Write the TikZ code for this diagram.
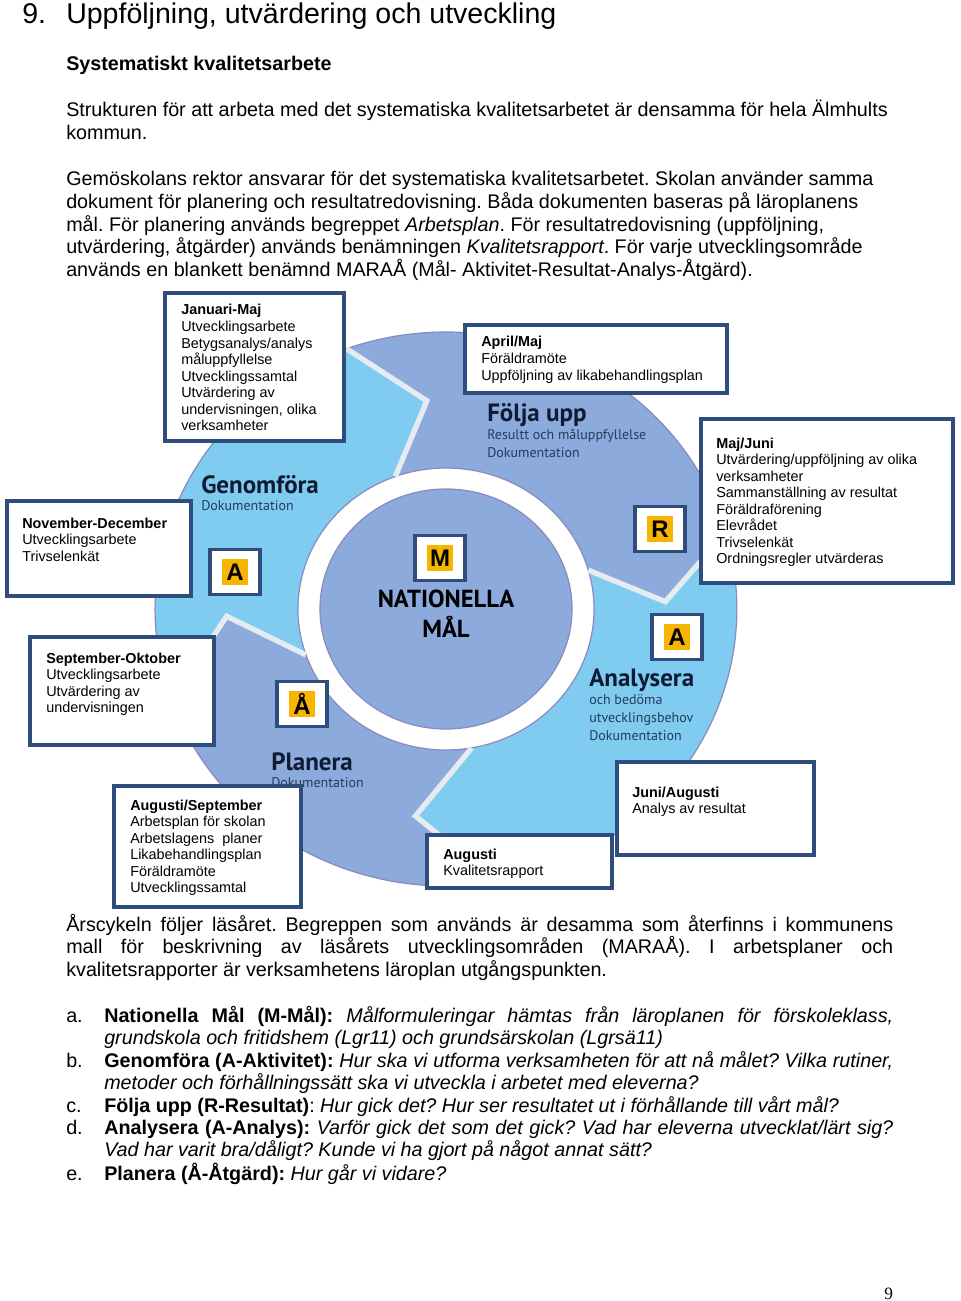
\documentclass[tikz,border=0pt]{standalone}
\usepackage{fontspec}
\setmainfont{Liberation Sans}
\newfontfamily\segfont{PT Sans}
\newfontfamily\pagefont{Liberation Serif}
\usetikzlibrary{fit}
\frenchspacing
\definecolor{lightseg}{HTML}{80CCF0}
\definecolor{midseg}{HTML}{8DAADD}
\definecolor{edgec}{HTML}{8A8ABF}
\definecolor{gapc}{HTML}{E6EBF2}
\definecolor{boxblue}{HTML}{2F4D7C}
\definecolor{badgey}{HTML}{F8B500}
\definecolor{segtitle}{HTML}{0E1B33}
\definecolor{segsmall}{HTML}{243C5E}
\newcommand\bodyfont{\fontsize{14.8pt}{17pt}\selectfont}
\newcommand\boxfont{\fontsize{10.8pt}{12.4pt}\selectfont}
\newcommand\titlefont{\fontsize{21.4pt}{24pt}\selectfont}
\newcommand\segbig{\segfont\bfseries\fontsize{18.75pt}{20pt}\selectfont}
\newcommand\segsm{\segfont\fontsize{10.5pt}{13.5pt}\selectfont}
\begin{document}
\begin{tikzpicture}[x=0.75pt,y=-0.75pt,
  txt/.style={inner sep=0pt, anchor=base west},
  tbox/.style={draw=boxblue, line width=2.4pt, fill=white, inner sep=0pt},
  badgebox/.style={draw=boxblue, line width=2.4pt, fill=white, minimum width=37.5pt, minimum height=33.75pt, inner sep=0pt},
  badgeletter/.style={fill=badgey, minimum width=20pt, minimum height=20pt, inner sep=0pt, font=\bfseries\fontsize{18pt}{18pt}\selectfont},
  seglab/.style={inner sep=0pt, anchor=base west, text=segtitle, font=\segbig},
  segsub/.style={inner sep=0pt, anchor=base west, text=segsmall},
  segpath/.style={draw=edgec, line width=0.9pt},
  gapline/.style={draw=gapc, line width=4pt},
]
\fill[white] (0,0) rectangle (960,1301);
\useasboundingbox (0,0) rectangle (960,1301);

% ---------- header text ----------
\node[txt, font=\titlefont] (tnum) at (22,24) {9.};
\node[txt, font=\titlefont] (ttl) at (66,24) {Uppföljning, utvärdering och utveckling};
\node[txt, font=\bodyfont\bfseries] (thead) at (66,71) {Systematiskt kvalitetsarbete};
\node[txt] (p1) at (66,117) {\parbox[t]{700pt}{\bodyfont\raggedright
Strukturen för att arbeta med det systematiska kvalitetsarbetet är densamma för hela Älmhults\\
kommun.}};
\node[txt] (p2) at (66,186) {\parbox[t]{700pt}{\bodyfont\raggedright
Gemöskolans rektor ansvarar för det systematiska kvalitetsarbetet. Skolan använder samma\\
dokument för planering och resultatredovisning. Båda dokumenten baseras på läroplanens\\
mål. För planering används begreppet \textit{Arbetsplan}. För resultatredovisning (uppföljning,\\
utvärdering, åtgärder) används benämningen \textit{Kvalitetsrapport}. För varje utvecklingsområde\\
används en blankett benämnd MARAÅ (Mål- Aktivitet-Resultat-Analys-Åtgärd).}};

% ---------- cycle ----------
\def\Ro{277}\def\Ri{141}\def\Rm{209}
\begin{scope}[shift={(446,609)}, xscale=1.05]
 % Folja upp
 \path[segpath, fill=midseg] (-110:\Ro) arc[start angle=-110, end angle=-16, radius=\Ro] -- (-2:\Rm) -- (-16:\Ri) arc[start angle=-16, end angle=-110, radius=\Ri] -- (-95:\Rm) -- cycle;
 % Analysera
 \path[segpath, fill=lightseg] (-16:\Ro) arc[start angle=-16, end angle=80, radius=\Ro] -- (98:\Rm) -- (80:\Ri) arc[start angle=80, end angle=-16, radius=\Ri] -- (-2:\Rm) -- cycle;
 % Planera
 \path[segpath, fill=midseg] (80:\Ro) arc[start angle=80, end angle=161, radius=\Ro] -- (178:\Rm) -- (161:\Ri) arc[start angle=161, end angle=80, radius=\Ri] -- (98:\Rm) -- cycle;
 % Genomfora
 \path[segpath, fill=lightseg] (161:\Ro) arc[start angle=161, end angle=250, radius=\Ro] -- (265:\Rm) -- (250:\Ri) arc[start angle=250, end angle=161, radius=\Ri] -- (178:\Rm) -- cycle;
 % gaps
 \draw[gapline] (-110:\Ro) -- (-95:\Rm) -- (-110:\Ri);
 \draw[gapline] (-16:\Ro) -- (-2:\Rm) -- (-16:\Ri);
 \draw[gapline] (80:\Ro) -- (98:\Rm) -- (80:\Ri);
 \draw[gapline] (161:\Ro) -- (178:\Rm) -- (161:\Ri);
 % inner circle
 \path[segpath, fill=midseg] (0,0) circle[radius=120];
\end{scope}

% segment labels
\node[seglab] (lgen) at (201,493) {Genomföra};
\node[segsub] (lgend) at (201,510) {\segsm Dokumentation};
\node[seglab] (lfol) at (487,421) {Följa upp};
\node[segsub] (lfold) at (487,439) {\parbox[t]{200pt}{\segsm Resultt och måluppfyllelse\\Dokumentation}};
\node[seglab] (lana) at (589,686) {Analysera};
\node[segsub] (lanad) at (589,704) {\parbox[t]{200pt}{\segsm och bedöma\\utvecklingsbehov\\Dokumentation}};
\node[seglab] (lpla) at (271,770) {Planera};
\node[segsub] (lplad) at (271,787) {\segsm Dokumentation};
\node[font=\segfont\bfseries\fontsize{18.5pt}{22.5pt}\selectfont, align=center, text=black, inner sep=0pt] (nat) at (446,614) {NATIONELLA\\MÅL};

% badges
\node[badgebox] (bM) at (440,558) {};
\node[badgeletter] (lM) at (bM.center) {M};
\node[badgebox] (bA1) at (235,572) {};
\node[badgeletter] (lA1) at (bA1.center) {A};
\node[badgebox] (bAA) at (302,704) {};
\node[badgeletter] (lAA) at (bAA.center) {Å};
\node[badgebox] (bR) at (660,529) {};
\node[badgeletter] (lR) at (bR.center) {R};
\node[badgebox] (bA2) at (677,637) {};
\node[badgeletter] (lA2) at (bA2.center) {A};

% text boxes
\node[tbox, fit={(165,293)(344,441)}] (bjan) {};
\node[txt] (tjan) at (181,315) {\parbox[t]{300pt}{\boxfont\raggedright\textbf{Januari-Maj}\\Utvecklingsarbete\\Betygsanalys/analys\\måluppfyllelse\\Utvecklingssamtal\\Utvärdering av\\undervisningen, olika\\verksamheter}};
\node[tbox, fit={(465,325)(727,393)}] (bapr) {};
\node[txt] (tapr) at (481,347) {\parbox[t]{300pt}{\boxfont\raggedright\textbf{April/Maj}\\Föräldramöte\\Uppföljning av likabehandlingsplan}};
\node[tbox, fit={(701,419)(953,583)}] (bmaj) {};
\node[txt] (tmaj) at (716,448) {\parbox[t]{300pt}{\boxfont\raggedright\textbf{Maj/Juni}\\Utvärdering/uppföljning av olika\\verksamheter\\Sammanställning av resultat\\Föräldraförening\\Elevrådet\\Trivselenkät\\Ordningsregler utvärderas}};
\node[tbox, fit={(7,501)(191,596)}] (bnov) {};
\node[txt] (tnov) at (22,528) {\parbox[t]{300pt}{\boxfont\raggedright\textbf{November-December}\\Utvecklingsarbete\\Trivselenkät}};
\node[tbox, fit={(30,637)(214,745)}] (bsep) {};
\node[txt] (tsep) at (46,663) {\parbox[t]{300pt}{\boxfont\raggedright\textbf{September-Oktober}\\Utvecklingsarbete\\Utvärdering av\\undervisningen}};
\node[tbox, fit={(114,786)(301,907)}] (baug) {};
\node[txt] (taug) at (130,810) {\parbox[t]{300pt}{\boxfont\raggedright\textbf{Augusti/September}\\Arbetsplan för skolan\\Arbetslagens~ planer\\Likabehandlingsplan\\Föräldramöte\\Utvecklingssamtal}};
\node[tbox, fit={(427,835)(612,888)}] (bkva) {};
\node[txt] (tkva) at (443,859) {\parbox[t]{300pt}{\boxfont\raggedright\textbf{Augusti}\\Kvalitetsrapport}};
\node[tbox, fit={(617,762)(814,855)}] (bjun) {};
\node[txt] (tjun) at (632,797) {\parbox[t]{300pt}{\boxfont\raggedright\textbf{Juni/Augusti}\\Analys av resultat}};

% ---------- lower text ----------
\node[txt] (p3) at (66,931) {\parbox[t]{620.25pt}{\bodyfont
\makebox[620.25pt][s]{Årscykeln följer läsåret. Begreppen som används är desamma som återfinns i kommunens}\\
\makebox[620.25pt][s]{mall för beskrivning av läsårets utvecklingsområden (MARAÅ). I arbetsplaner och}\\
kvalitetsrapporter är verksamhetens läroplan utgångspunkten.}};

\node[txt, font=\bodyfont] (la) at (66,1022) {a.};
\node[txt] (ia) at (104,1022) {\parbox[t]{591.75pt}{\bodyfont
\makebox[591.75pt][s]{\textbf{Nationella Mål (M-Mål):} \textit{Målformuleringar hämtas från läroplanen för förskoleklass,}}\\
\textit{grundskola och fritidshem (Lgr11) och grundsärskolan (Lgrsä11)}}};
\node[txt, font=\bodyfont] (lb) at (66,1067) {b.};
\node[txt] (ib) at (104,1067) {\parbox[t]{591.75pt}{\bodyfont
\makebox[591.75pt][s]{\textbf{Genomföra (A-Aktivitet):} \textit{Hur ska vi utforma verksamheten för att nå målet? Vilka rutiner,}}\\
\textit{metoder och förhållningssätt ska vi utveckla i arbetet med eleverna?}}};
\node[txt, font=\bodyfont] (lc) at (66,1112) {c.};
\node[txt, font=\bodyfont] (ic) at (104,1112) {\textbf{Följa upp (R-Resultat)}: \textit{Hur gick det? Hur ser resultatet ut i förhållande till vårt mål?}};
\node[txt, font=\bodyfont] (ld) at (66,1134) {d.};
\node[txt] (id) at (104,1134) {\parbox[t]{591.75pt}{\bodyfont
\makebox[591.75pt][s]{\textbf{Analysera (A-Analys):} \textit{Varför gick det som det gick? Vad har eleverna utvecklat/lärt sig?}}\\
\textit{Vad har varit bra/dåligt? Kunde vi ha gjort på något annat sätt?}}};
\node[txt, font=\bodyfont] (le) at (66,1180) {e.};
\node[txt, font=\bodyfont] (ie) at (104,1180) {\textbf{Planera (Å-Åtgärd):} \textit{Hur går vi vidare?}};

\node[txt, font=\pagefont\fontsize{13pt}{13pt}\selectfont] (pg) at (884,1299) {9};
\end{tikzpicture}
\end{document}
